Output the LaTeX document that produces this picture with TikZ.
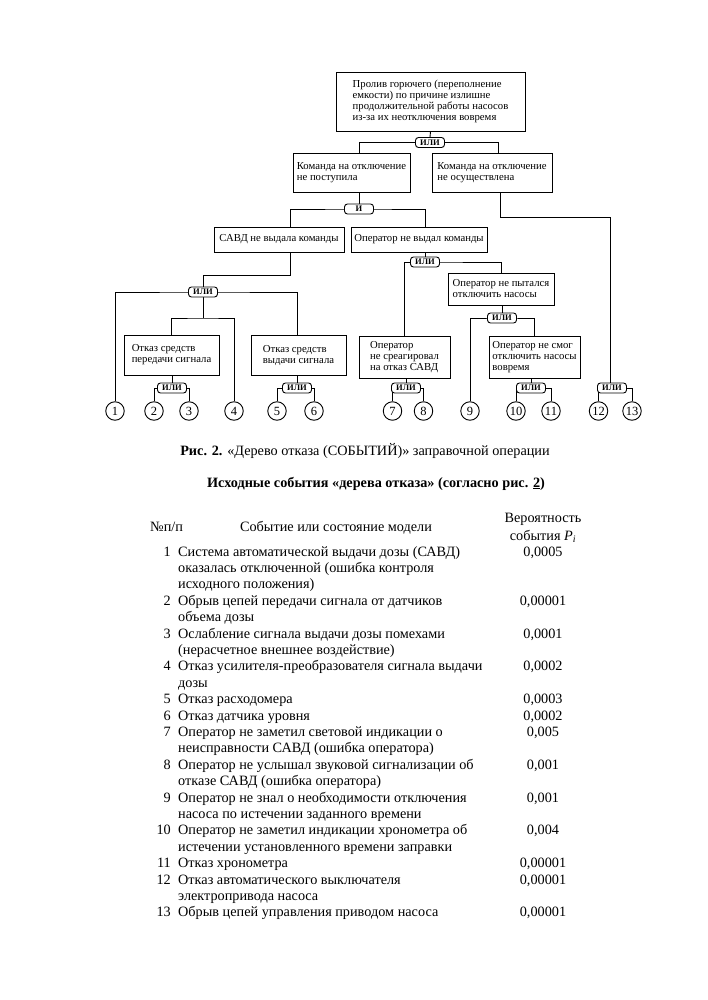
\documentclass[tikz,border=0pt]{standalone}
\usepackage{fontspec}
\setmainfont{Liberation Serif}
\pgfdeclarelayer{bg}
\pgfsetlayers{bg,main}
\begin{document}
\begin{tikzpicture}[x=1pt,y=-1pt,
  box/.style={draw, line width=0.9pt, align=left, inner sep=2pt, fill=white,
    font=\fontsize{10.7}{11}\selectfont},
  gate/.style={draw, line width=0.9pt, rounded corners=3pt, minimum width=29pt,
    minimum height=10pt, inner sep=0pt, fill=white,
    font=\bfseries\fontsize{8.5}{9}\selectfont},
  ev/.style={circle, draw, line width=0.9pt, minimum size=18.5pt, inner sep=0pt,
    fill=white, font=\fontsize{12.5}{12.5}\selectfont},
  conn/.style={line width=0.9pt},
  tbl/.style={inner sep=0pt, align=left, font=\fontsize{14.25}{16.4}\selectfont}]
\begin{pgfonlayer}{bg}
\fill[white] (0,0) rectangle (707,1000);
\end{pgfonlayer}
\useasboundingbox (0,0) rectangle (707,1000);

% ---------- boxes ----------
\node[box, minimum width=189pt, minimum height=59pt] (T) at (430.5,101.5)
  {Пролив горючего (переполнение\\емкости) по причине излишне\\продолжительной работы насосов\\из-за их неотключения вовремя};
\node[box, minimum width=117pt, minimum height=39pt] (A) at (351.5,172.5)
  {Команда на отключение\\не поступила};
\node[box, minimum width=120pt, minimum height=39pt] (B) at (492,172.5)
  {Команда на отключение\\не осуществлена};
\node[box, minimum width=130pt, minimum height=25pt] (C) at (279,239.5)
  {САВД не выдала команды};
\node[box, minimum width=136pt, minimum height=25pt] (D) at (419,239.5)
  {Оператор не выдал команды};
\node[box, minimum width=95pt, minimum height=40pt] (E) at (171.5,355)
  {Отказ средств\\передачи сигнала};
\node[box, minimum width=95pt, minimum height=40pt] (F) at (298.5,355)
  {Отказ средств\\выдачи сигнала};
\node[box, minimum width=91pt, minimum height=42pt] (G) at (404.5,357)
  {Оператор\\не среагировал\\на отказ САВД};
\node[box, minimum width=106pt, minimum height=32pt] (H) at (501,289)
  {Оператор не пытался\\отключить насосы};
\node[box, minimum width=91pt, minimum height=42pt] (I) at (534.5,357)
  {Оператор не смог\\отключить насосы\\вовремя};

% ---------- gates ----------
\node[gate] (g1) at (430,142.5) {ИЛИ};
\node[gate] (g2) at (359,209) {И};
\node[gate] (g3) at (203,292) {ИЛИ};
\node[gate] (g4) at (425,262) {ИЛИ};
\node[gate] (g5) at (172,388) {ИЛИ};
\node[gate] (g6) at (297,388) {ИЛИ};
\node[gate] (g7) at (406,388) {ИЛИ};
\node[gate] (g8) at (502,318) {ИЛИ};
\node[gate] (g9) at (531,388) {ИЛИ};
\node[gate] (g10) at (612,388) {ИЛИ};

% ---------- basic events ----------
\node[ev] (c1) at (115,411) {1};
\node[ev] (c2) at (154,411) {2};
\node[ev] (c3) at (189,411) {3};
\node[ev] (c4) at (234,411) {4};
\node[ev] (c5) at (277,411) {5};
\node[ev] (c6) at (314,411) {6};
\node[ev] (c7) at (392.5,411) {7};
\node[ev] (c8) at (423.5,411) {8};
\node[ev] (c9) at (470,411) {9};
\node[ev] (c10) at (516,411) {10};
\node[ev] (c11) at (551,411) {11};
\node[ev] (c12) at (598.5,411) {12};
\node[ev] (c13) at (632,411) {13};

\coordinate (kB) at (0,217);
\coordinate (kC) at (0,275);
\coordinate (kG) at (0,318);

% ---------- connectors ----------
\begin{pgfonlayer}{bg}
\draw[conn] (T.south) -- (g1.north);
\draw[conn] ([xshift=7.5pt]A.north) |- (g1.center) -| ([xshift=6pt]B.north);
\draw[conn] (g2.north |- A.south) -- (g2.north);
\draw[conn] ([xshift=11pt]C.north) |- (g2.center) -| ([xshift=6pt]D.north);
\draw[conn] ([xshift=8pt]B.south) |- ([xshift=-2pt]g10.north |- kB) -- ([xshift=-2pt]g10.north);
\draw[conn] ([xshift=11pt]C.south) |- (g3.north |- kC) -- (g3.north);
\draw[conn] (c1.north) |- (g3.center) -| ([xshift=-1.5pt]F.north);
\draw[conn] (g3.south) -- (g3.south |- kG);
\draw[conn] (E.north) |- (g3.south |- kG) -| (c4.north);
\draw[conn] (g5.north |- E.south) -- (g5.north);
\draw[conn] (c2.north) |- (g5.center) -| (c3.north);
\draw[conn] (g6.north |- F.south) -- (g6.north);
\draw[conn] (c5.north) |- (g6.center) -| (c6.north);
\draw[conn] (g4.north |- D.south) -- (g4.north);
\draw[conn] (G.north) |- (g4.center) -| (H.north);
\draw[conn] (g8.north |- H.south) -- (g8.north);
\draw[conn] (c9.north) |- (g8.center) -| (I.north);
\draw[conn] (g7.north |- G.south) -- (g7.north);
\draw[conn] (c7.north) |- (g7.center) -| (c8.north);
\draw[conn] (g9.north |- I.south) -- (g9.north);
\draw[conn] (c10.north) |- (g9.center) -| (c11.north);
\draw[conn] (c12.north) |- (g10.center) -| (c13.north);
\end{pgfonlayer}

% ---------- caption and title ----------
\node[tbl, anchor=base] (cap) at (365,455)
  {\textbf{Рис. 2.} «Дерево отказа (СОБЫТИЙ)» заправочной операции};
\node[tbl, anchor=base, font=\bfseries\fontsize{14.25}{16.4}\selectfont] (ttl) at (376,487)
  {Исходные события «дерева отказа» (согласно рис. \underline{2})};

% ---------- table header ----------
\node[tbl, anchor=base west] (h1) at (150,531) {№п/п};
\node[tbl, anchor=base] (h2) at (336,531) {Событие или состояние модели};
\node[tbl, anchor=base] (h3) at (543,522) {Вероятность};
\node[tbl, anchor=base] (h4) at (543,540) {события \textit{P}\textsubscript{\textit{i}}};

% ---------- table rows (base anchor = last line) ----------
\node[tbl, anchor=base east] (n1) at (171,556) {1};
\node[tbl, anchor=base west] (d1) at (178,588.8) {Система автоматической выдачи дозы (САВД)\\оказалась отключенной (ошибка контроля\\исходного положения)};
\node[tbl, anchor=base] (p1) at (543,556) {0,0005};

\node[tbl, anchor=base east] (n2) at (171,605.2) {2};
\node[tbl, anchor=base west] (d2) at (178,621.6) {Обрыв цепей передачи сигнала от датчиков\\объема дозы};
\node[tbl, anchor=base] (p2) at (543,605.2) {0,00001};

\node[tbl, anchor=base east] (n3) at (171,638) {3};
\node[tbl, anchor=base west] (d3) at (178,654.4) {Ослабление сигнала выдачи дозы помехами\\(нерасчетное внешнее воздействие)};
\node[tbl, anchor=base] (p3) at (543,638) {0,0001};

\node[tbl, anchor=base east] (n4) at (171,670.8) {4};
\node[tbl, anchor=base west] (d4) at (178,687.2) {Отказ усилителя-преобразователя сигнала выдачи\\дозы};
\node[tbl, anchor=base] (p4) at (543,670.8) {0,0002};

\node[tbl, anchor=base east] (n5) at (171,703.6) {5};
\node[tbl, anchor=base west] (d5) at (178,703.6) {Отказ расходомера};
\node[tbl, anchor=base] (p5) at (543,703.6) {0,0003};

\node[tbl, anchor=base east] (n6) at (171,720) {6};
\node[tbl, anchor=base west] (d6) at (178,720) {Отказ датчика уровня};
\node[tbl, anchor=base] (p6) at (543,720) {0,0002};

\node[tbl, anchor=base east] (n7) at (171,736.4) {7};
\node[tbl, anchor=base west] (d7) at (178,752.8) {Оператор не заметил световой индикации о\\неисправности САВД (ошибка оператора)};
\node[tbl, anchor=base] (p7) at (543,736.4) {0,005};

\node[tbl, anchor=base east] (n8) at (171,769.2) {8};
\node[tbl, anchor=base west] (d8) at (178,785.6) {Оператор не услышал звуковой сигнализации об\\отказе САВД (ошибка оператора)};
\node[tbl, anchor=base] (p8) at (543,769.2) {0,001};

\node[tbl, anchor=base east] (n9) at (171,802) {9};
\node[tbl, anchor=base west] (d9) at (178,818.4) {Оператор не знал о необходимости отключения\\насоса по истечении заданного времени};
\node[tbl, anchor=base] (p9) at (543,802) {0,001};

\node[tbl, anchor=base east] (n10) at (171,834.8) {10};
\node[tbl, anchor=base west] (d10) at (178,851.2) {Оператор не заметил индикации хронометра об\\истечении установленного времени заправки};
\node[tbl, anchor=base] (p10) at (543,834.8) {0,004};

\node[tbl, anchor=base east] (n11) at (171,867.6) {11};
\node[tbl, anchor=base west] (d11) at (178,867.6) {Отказ хронометра};
\node[tbl, anchor=base] (p11) at (543,867.6) {0,00001};

\node[tbl, anchor=base east] (n12) at (171,884) {12};
\node[tbl, anchor=base west] (d12) at (178,900.4) {Отказ автоматического выключателя\\электропривода насоса};
\node[tbl, anchor=base] (p12) at (543,884) {0,00001};

\node[tbl, anchor=base east] (n13) at (171,916.8) {13};
\node[tbl, anchor=base west] (d13) at (178,916.8) {Обрыв цепей управления приводом насоса};
\node[tbl, anchor=base] (p13) at (543,916.8) {0,00001};
\end{tikzpicture}
\end{document}
